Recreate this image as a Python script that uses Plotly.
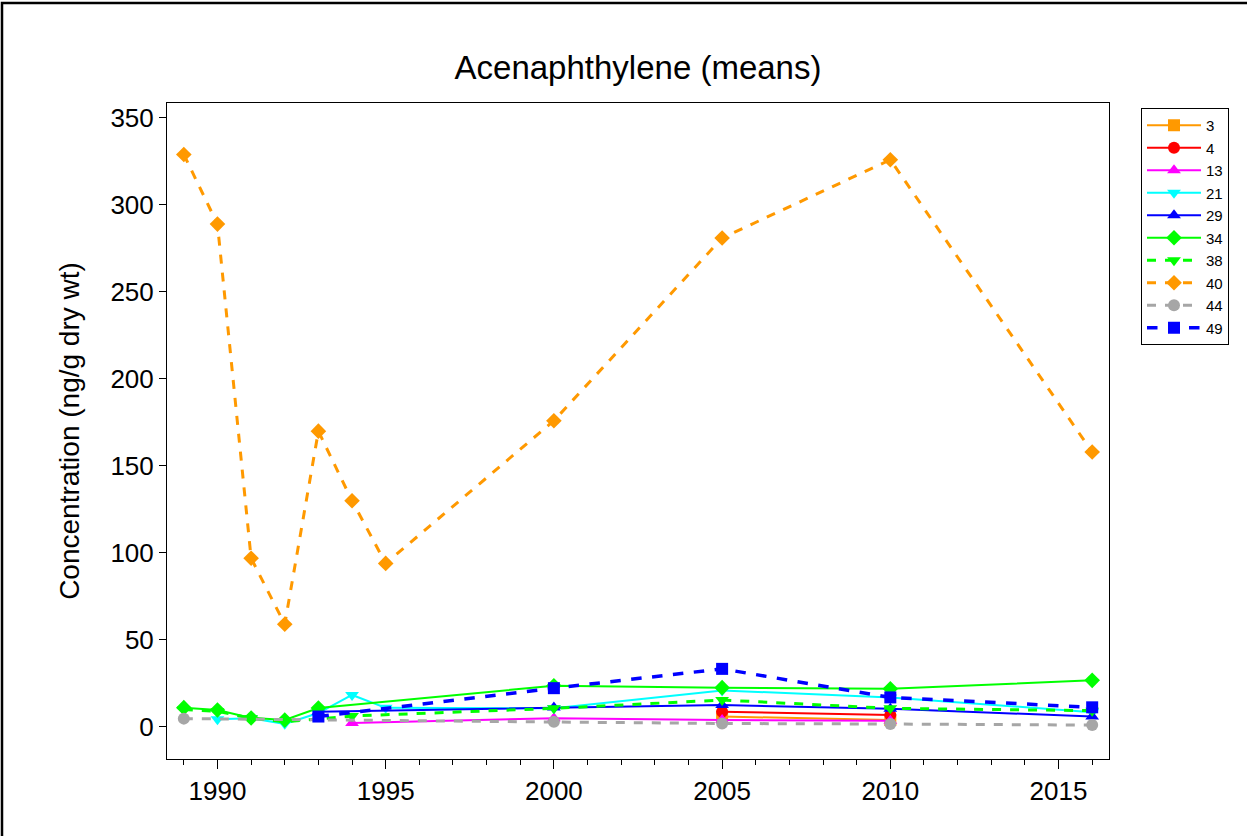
import plotly.graph_objects as go

# Mean acenaphthylene concentrations (ng/g dry wt) by station and year
years_3 = [2005, 2010]
vals_3 = [6.0, 4.0]

years_4 = [2005, 2010]
vals_4 = [8.8, 6.9]

years_13 = [1994, 2000, 2005, 2010]
vals_13 = [2.3, 5.0, 4.0, 3.6]

years_21 = [1990, 1991, 1992, 1993, 1994, 1995, 2000, 2005, 2010, 2016]
vals_21 = [4.5, 5.0, 1.8, 8.0, 18.4, 11.0, 10.7, 21.0, 17.0, 8.5]

years_29 = [1993, 2000, 2005, 2010, 2016]
vals_29 = [8.8, 11.2, 12.6, 10.5, 6.0]

years_34 = [1989, 1990, 1991, 1992, 1993, 2000, 2005, 2010, 2016]
vals_34 = [11.1, 9.8, 5.2, 4.0, 10.9, 23.7, 22.6, 22.0, 26.8]

years_38 = [1989, 1990, 1991, 1992, 1994, 2000, 2005, 2010, 2016]
vals_38 = [10.0, 9.0, 5.0, 3.0, 6.3, 10.7, 15.5, 10.7, 9.4]

years_40 = [1989, 1990, 1991, 1992, 1993, 1994, 1995, 2000, 2005, 2010, 2016]
vals_40 = [329, 289, 97, 59, 170, 130, 94, 176, 281, 326, 158]

years_44 = [1989, 2000, 2005, 2010, 2016]
vals_44 = [4.8, 3.0, 2.0, 1.7, 1.1]

years_49 = [1993, 2000, 2005, 2010, 2016]
vals_49 = [6.0, 22.3, 33.4, 17.0, 11.3]

x_ticks = [1990, 1995, 2000, 2005, 2010, 2015]
y_ticks = [0, 50, 100, 150, 200, 250, 300, 350]

series = [
    ("3", years_3, vals_3, "#FF9900", "solid", "square", 2),
    ("4", years_4, vals_4, "#FF0000", "solid", "circle", 2),
    ("13", years_13, vals_13, "#FF00FF", "solid", "triangle-up", 2),
    ("21", years_21, vals_21, "#00FFFF", "solid", "triangle-down", 2),
    ("29", years_29, vals_29, "#0000FF", "solid", "triangle-up", 2),
    ("34", years_34, vals_34, "#00FF00", "solid", "diamond", 2),
    ("38", years_38, vals_38, "#00FF00", "dash", "triangle-down", 3),
    ("40", years_40, vals_40, "#FF9900", "dash", "diamond", 3),
    ("44", years_44, vals_44, "#A6A6A6", "dash", "circle", 3),
    ("49", years_49, vals_49, "#0000FF", "dash", "square", 3.5),
]

fig = go.Figure()
for name, xs, ys, color, dash, symbol, width in series:
    fig.add_trace(go.Scatter(
        x=xs, y=ys, name=name, mode="lines+markers",
        line=dict(color=color, dash=dash, width=width),
        marker=dict(symbol=symbol, size=12, color=color,
                    line=dict(width=0)),
    ))

W, H = 1247, 836
L, R, T, B = 167, 1109, 103, 759


def px(xp):
    return (xp - L) / (R - L)


def py(yp):
    return (B - yp) / (B - T)


FONT = "Liberation Sans, Arial, sans-serif"

fig.update_layout(
    width=W, height=H,
    margin=dict(l=L, r=W - R, t=T, b=H - B),
    paper_bgcolor="white", plot_bgcolor="white",
    title=dict(text="Acenaphthylene (means)", x=0.5, xref="paper",
               y=1 - 67 / H, yanchor="middle",
               font=dict(family=FONT, size=33, color="black")),
    xaxis=dict(
        range=[1988.5, 2016.5], tickmode="array", tickvals=x_ticks,
        ticktext=[str(v) for v in x_ticks],
        ticks="outside", ticklen=9, tickwidth=1, tickcolor="black",
        minor=dict(ticks="outside", ticklen=5, tickwidth=1, tickcolor="black", dtick=1, tick0=1988),
        showline=True, linecolor="black", linewidth=1, mirror=True,
        showgrid=False, zeroline=False,
        tickfont=dict(family=FONT, size=26, color="black"),
    ),
    yaxis=dict(
        range=[-18.4, 358.6], tickmode="array", tickvals=y_ticks,
        ticks="outside", ticklen=7, tickwidth=1, tickcolor="black",
        showline=True, linecolor="black", linewidth=1, mirror=True,
        showgrid=False, zeroline=False,
        tickfont=dict(family=FONT, size=26, color="black"),
        title=dict(text="Concentration (ng/g dry wt)", standoff=22,
                   font=dict(family=FONT, size=28, color="black")),
    ),
    legend=dict(
        x=px(1141), y=py(108), xanchor="left", yanchor="top",
        bordercolor="black", borderwidth=1, bgcolor="white",
        font=dict(family=FONT, size=15, color="black"),
        itemwidth=54, tracegroupgap=0,
    ),
    showlegend=True,
)

# Outer frame around the whole figure
fig.add_shape(type="rect", xref="paper", yref="paper",
              x0=px(2), x1=px(1260), y0=py(850), y1=py(3),
              line=dict(color="black", width=2.5), layer="below")

fig.write_html("out.html")
